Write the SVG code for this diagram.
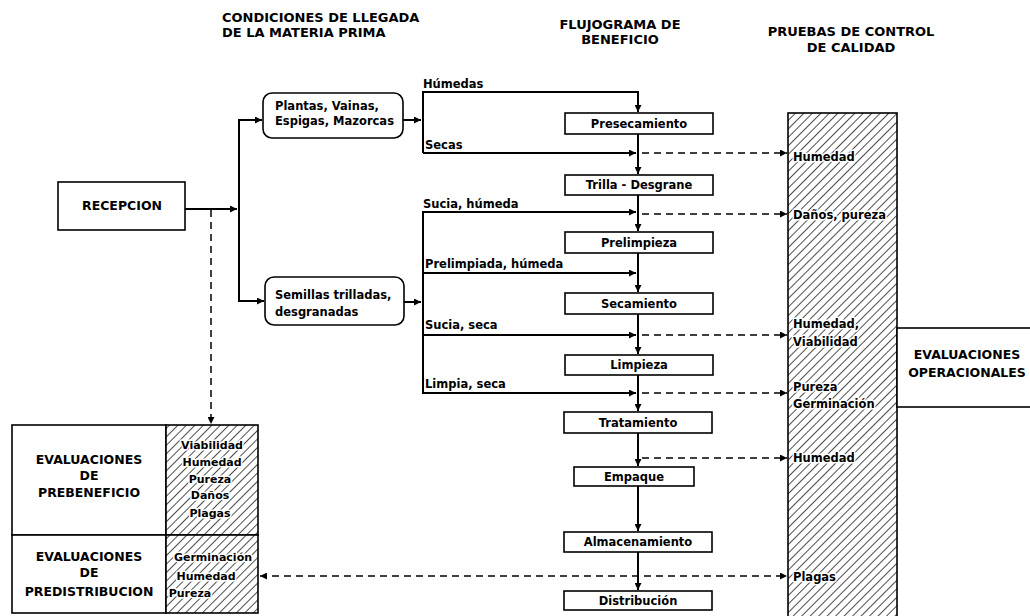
<svg xmlns="http://www.w3.org/2000/svg" width="1030" height="616" viewBox="0 0 1030 616">
<style>
text { font-family: "DejaVu Sans", "Liberation Sans", sans-serif; font-weight: bold; fill: #000; }
.h { font-size: 13px; }
.t { font-size: 11.5px; }
.s { font-size: 11px; }
.b { font-size: 12.5px; }
.m { text-anchor: middle; }
.box { fill: #fff; stroke: #000; stroke-width: 1.6; }
.hat { fill: url(#hatch); stroke: #000; stroke-width: 1.6; }
.ln { fill: none; stroke: #000; stroke-width: 2; }
.ar { fill: none; stroke: #000; stroke-width: 2; marker-end: url(#ah); }
.da { fill: none; stroke: #000; stroke-width: 1.5; stroke-dasharray: 7 5; marker-end: url(#ah); }
.ko { paint-order: stroke; stroke: #fff; stroke-width: 3; stroke-linejoin: round; }
</style>
<defs>
<marker id="ah" viewBox="0 0 10 10" refX="10" refY="5" markerWidth="10" markerHeight="7" orient="auto-start-reverse" markerUnits="userSpaceOnUse"><path d="M0,0 L10,5 L0,10 z" fill="#000"/></marker>
<pattern id="hatch" width="6" height="6" patternUnits="userSpaceOnUse" patternTransform="rotate(45)"><rect width="6" height="6" fill="#fff"/><line x1="0" y1="0" x2="0" y2="6" stroke="#000" stroke-width="1.4"/></pattern>
</defs>
<rect width="1030" height="616" fill="#fff"/>

<g id="headers">
<text class="h" x="222" y="22">CONDICIONES DE LLEGADA</text>
<text class="h" x="222" y="37">DE LA MATERIA PRIMA</text>
<text class="h m" x="620" y="29">FLUJOGRAMA DE</text>
<text class="h m" x="620" y="44">BENEFICIO</text>
<text class="h m" x="851" y="36">PRUEBAS DE CONTROL</text>
<text class="h m" x="851" y="52">DE CALIDAD</text>
</g>

<g id="connectors">
<path class="ar" d="M185,209 H237"/>
<path class="ln" d="M239,120 V302"/>
<path class="ar" d="M238,120 H262"/>
<path class="ar" d="M238,301 H264"/>
<path class="ar" d="M403,120 H421"/>
<path class="ar" d="M404,302 H421"/>
<path class="da" d="M211,210 V424"/>
<path class="ln" d="M423,92 V153"/>
<path class="ar" d="M422,92 H638 V112"/>
<path class="ar" d="M423,153 H636"/>
<path class="ln" d="M423,212 V394"/>
<path class="ar" d="M422,212 H636"/>
<path class="ar" d="M423,273 H636"/>
<path class="ar" d="M423,335 H636"/>
<path class="ar" d="M423,393 H636"/>
<path class="ar" d="M638,134 V174"/>
<path class="ar" d="M638,195 V231"/>
<path class="ar" d="M638,253 V292"/>
<path class="ar" d="M638,314 V354"/>
<path class="ar" d="M638,375 V411"/>
<path class="ar" d="M638,433 V466"/>
<path class="ar" d="M638,486 V531"/>
<path class="ar" d="M638,552 V590"/>
<path class="da" d="M642,153 H787"/>
<path class="da" d="M642,214 H787"/>
<path class="da" d="M642,335 H787"/>
<path class="da" d="M642,393 H787"/>
<path class="da" d="M642,458 H787"/>
<path class="da" d="M260,576 H787" style="marker-start:url(#ah)"/>
</g>

<g id="edge-labels">
<text class="t" x="423" y="88">Húmedas</text>
<text class="t" x="425" y="149">Secas</text>
<text class="t" x="423" y="208">Sucia, húmeda</text>
<text class="t" x="425" y="268">Prelimpiada, húmeda</text>
<text class="t" x="425" y="329">Sucia, seca</text>
<text class="t" x="425" y="388">Limpia, seca</text>
</g>

<g id="recepcion">
<rect class="box" x="58" y="182" width="127" height="48"/>
<text class="b m" x="122" y="210">RECEPCION</text>
</g>

<g id="plantas">
<rect class="box" x="263" y="93" width="140" height="45" rx="9"/>
<text class="t" x="275" y="110">Plantas, Vainas,</text>
<text class="t" x="275" y="125">Espigas, Mazorcas</text>
</g>

<g id="semillas">
<rect class="box" x="265" y="277" width="139" height="48" rx="9"/>
<text class="t" x="275" y="299">Semillas trilladas,</text>
<text class="t" x="275" y="316">desgranadas</text>
</g>

<g id="presecamiento"><rect class="box" x="565" y="113" width="148" height="21"/><text class="t m" x="639" y="128">Presecamiento</text></g>
<g id="trilla"><rect class="box" x="565" y="175" width="148" height="20"/><text class="t m" x="639" y="189">Trilla - Desgrane</text></g>
<g id="prelimpieza"><rect class="box" x="565" y="232" width="148" height="21"/><text class="t m" x="639" y="247">Prelimpieza</text></g>
<g id="secamiento"><rect class="box" x="565" y="293" width="148" height="21"/><text class="t m" x="639" y="308">Secamiento</text></g>
<g id="limpieza"><rect class="box" x="565" y="355" width="148" height="20"/><text class="t m" x="639" y="369">Limpieza</text></g>
<g id="tratamiento"><rect class="box" x="564" y="412" width="148" height="21"/><text class="t m" x="638" y="427">Tratamiento</text></g>
<g id="empaque"><rect class="box" x="574" y="467" width="120" height="19"/><text class="t m" x="634" y="481">Empaque</text></g>
<g id="almacenamiento"><rect class="box" x="564" y="532" width="148" height="20"/><text class="t m" x="638" y="546">Almacenamiento</text></g>
<g id="distribucion"><rect class="box" x="564" y="591" width="148" height="19"/><text class="t m" x="638" y="605">Distribución</text></g>

<g id="pruebas">
<rect class="hat" x="788" y="113" width="109" height="512"/>
<text class="t ko" x="793" y="161">Humedad</text>
<text class="t ko" x="793" y="219">Daños, pureza</text>
<text class="t ko" x="793" y="328">Humedad,</text>
<text class="t ko" x="793" y="346">Viabilidad</text>
<text class="t ko" x="793" y="391">Pureza</text>
<text class="t ko" x="793" y="408">Germinación</text>
<text class="t ko" x="793" y="462">Humedad</text>
<text class="t ko" x="793" y="581">Plagas</text>
</g>

<g id="operacionales">
<rect class="box" x="897" y="328" width="140" height="79"/>
<text class="b m" x="967" y="359">EVALUACIONES</text>
<text class="b m" x="967" y="377">OPERACIONALES</text>
</g>

<g id="prebeneficio">
<rect class="box" x="12" y="425" width="154" height="110"/>
<rect class="hat" x="166" y="425" width="92" height="110"/>
<text class="b m" x="89" y="464">EVALUACIONES</text>
<text class="b m" x="89" y="480">DE</text>
<text class="b m" x="89" y="497">PREBENEFICIO</text>
<text class="s m ko" x="212" y="449">Viabilidad</text>
<text class="s m ko" x="212" y="466">Humedad</text>
<text class="s m ko" x="210" y="483">Pureza</text>
<text class="s m ko" x="210" y="499">Daños</text>
<text class="s m ko" x="210" y="517">Plagas</text>
</g>

<g id="predistribucion">
<rect class="box" x="12" y="535" width="154" height="78"/>
<rect class="hat" x="166" y="535" width="92" height="78"/>
<text class="b m" x="89" y="561">EVALUACIONES</text>
<text class="b m" x="89" y="577">DE</text>
<text class="b m" x="89" y="596">PREDISTRIBUCION</text>
<text class="s m ko" x="213" y="561">Germinación</text>
<text class="s m ko" x="206" y="580">Humedad</text>
<text class="s m ko" x="190" y="597">Pureza</text>
</g>
</svg>
